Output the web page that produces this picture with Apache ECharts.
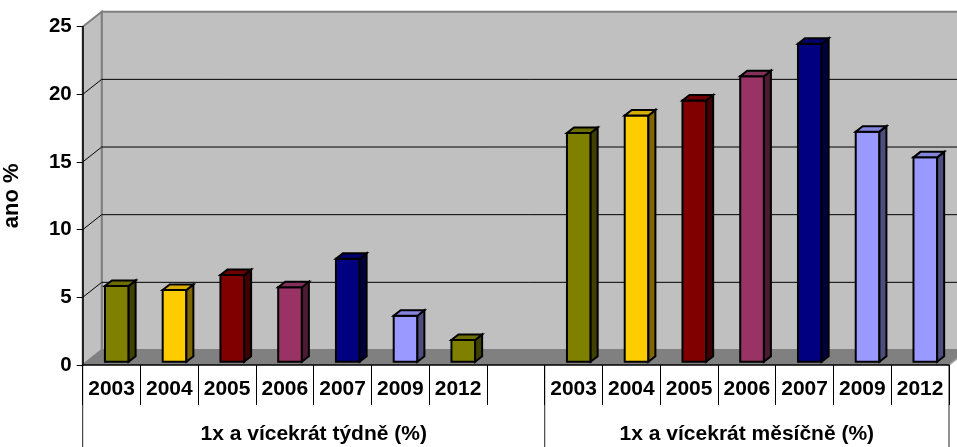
<!DOCTYPE html>
<html>
<head>
<meta charset="utf-8">
<script src="https://cdn.jsdelivr.net/npm/echarts@6/dist/echarts.min.js"></script>
<style>
html,body{margin:0;padding:0;background:#fff;}
#chart{width:957px;height:447px;}
</style>
</head>
<body>
<div id="chart"></div>
<script>
// ---- data ----
const years = ['2003', '2004', '2005', '2006', '2007', '2009', '2012'];
const groupLabels = ['1x a vícekrát týdně (%)', '1x a vícekrát měsíčně (%)'];
const weekly = [5.6, 5.3, 6.4, 5.5, 7.6, 3.4, 1.6];
const monthly = [16.9, 18.2, 19.3, 21.1, 23.5, 17.0, 15.1];
const yTicks = [0, 5, 10, 15, 20, 25];
const yTitle = 'ano %';

// ---- styles ----
const palette = {
  olive:  {front: '#808000', side: '#404000', top: '#6E6E00'},
  yellow: {front: '#FFCC00', side: '#806600', top: '#D9AD00'},
  red:    {front: '#800000', side: '#400000', top: '#6E0000'},
  plum:   {front: '#993366', side: '#4D1A33', top: '#83305A'},
  navy:   {front: '#000080', side: '#000040', top: '#00006E'},
  peri:   {front: '#9999FF', side: '#4D4D80', top: '#8585DD'}
};
const weeklyColors = ['olive', 'yellow', 'red', 'plum', 'navy', 'peri', 'olive'];
const monthlyColors = ['olive', 'yellow', 'red', 'plum', 'navy', 'peri', 'peri'];

const FONT = '"Liberation Sans", Arial, sans-serif';
const WALL_DX = 19, WALL_DY = 15;       // depth of the 3D box
const BAR_FY = 3.3;                     // bar front face depth offset
const BAR_DX = 7, BAR_DY = 5.5;         // bar depth

const categories = years.concat([''], years);
const barData = [];
weekly.forEach((v, i) => barData.push({value: [i, v], colorKey: weeklyColors[i]}));
monthly.forEach((v, i) => barData.push({value: [years.length + 1 + i, v], colorKey: monthlyColors[i]}));
const nCat = categories.length;
const yMax = yTicks[yTicks.length - 1];
const yStep = yTicks[1] - yTicks[0];

function renderWalls(params, api) {
  const bw = api.size([1, 0])[0];
  const o = api.coord([0, 0]);
  const xL = o[0] - bw / 2;
  const xR = api.coord([nCat - 1, 0])[0] + bw / 2;
  const y0 = o[1];
  const yT = api.coord([0, yMax])[1];
  const xSplit = api.coord([years.length, 0])[0] + bw / 2;
  const bottom = y0 + 90;
  const children = [];
  // back wall
  children.push({type: 'rect', shape: {x: xL + WALL_DX, y: yT - WALL_DY, width: xR - xL + 20, height: y0 - yT},
    style: {fill: '#C0C0C0', stroke: '#808080', lineWidth: 2}});
  // left wall
  children.push({type: 'polygon', shape: {points: [[xL, y0], [xL, yT], [xL + WALL_DX, yT - WALL_DY], [xL + WALL_DX, y0 - WALL_DY]]},
    style: {fill: '#C0C0C0', stroke: '#808080', lineWidth: 2}});
  // gridlines
  yTicks.forEach(t => {
    if (t === 0 || t === yMax) return;
    const y = api.coord([0, t])[1];
    children.push({type: 'line', shape: {x1: xL + WALL_DX, y1: y - WALL_DY, x2: xR + 40, y2: y - WALL_DY},
      style: {stroke: '#000', lineWidth: 1}});
    children.push({type: 'line', shape: {x1: xL, y1: y, x2: xL + WALL_DX, y2: y - WALL_DY},
      style: {stroke: '#000', lineWidth: 1}});
  });
  // floor
  children.push({type: 'polygon', shape: {points: [[xL, y0], [xR, y0], [xR + WALL_DX, y0 - WALL_DY], [xL + WALL_DX, y0 - WALL_DY]]},
    style: {fill: '#808080', stroke: null}});
  children.push({type: 'line', shape: {x1: xR, y1: y0, x2: xR + WALL_DX, y2: y0 - WALL_DY},
    style: {stroke: '#A0A0A0', lineWidth: 1.5}});
  // group separators
  [xL, xSplit, xR].forEach(x => {
    children.push({type: 'line', shape: {x1: x, y1: y0, x2: x, y2: bottom},
      style: {stroke: '#222', lineWidth: 1}});
  });
  // group labels
  const yLab = y0 + 69;
  children.push({type: 'text', style: {text: groupLabels[0], x: (xL + xSplit) / 2, y: yLab,
    align: 'center', verticalAlign: 'middle', font: 'bold 21px ' + FONT, fill: '#000'}});
  children.push({type: 'text', style: {text: groupLabels[1], x: (xSplit + xR) / 2, y: yLab,
    align: 'center', verticalAlign: 'middle', font: 'bold 21px ' + FONT, fill: '#000'}});
  return {type: 'group', children: children};
}

function renderBar(params, api) {
  const idx = api.value(0), v = api.value(1);
  const bw = api.size([1, 0])[0];
  const base = api.coord([idx, 0]);
  const top = api.coord([idx, v]);
  const c = palette[barData[params.dataIndex].colorKey];
  const l = base[0] - 0.115 * bw;
  const r = l + 0.41 * bw;
  const yb = base[1] - BAR_FY;
  const yt = top[1] - BAR_FY;
  const st = (fill) => ({fill: fill, stroke: '#000', lineWidth: 2, lineJoin: 'miter'});
  return {type: 'group', children: [
    {type: 'polygon', shape: {points: [[l, yb], [r, yb], [r, yt], [l, yt]]}, style: st(c.front)},
    {type: 'polygon', shape: {points: [[r, yb], [r + BAR_DX, yb - BAR_DY], [r + BAR_DX, yt - BAR_DY], [r, yt]]}, style: st(c.side)},
    {type: 'polygon', shape: {points: [[l, yt], [r, yt], [r + BAR_DX, yt - BAR_DY], [l + BAR_DX, yt - BAR_DY]]}, style: st(c.top)}
  ]};
}

const chart = echarts.init(document.getElementById('chart'), null, {renderer: 'canvas'});
chart.setOption({
  animation: false,
  backgroundColor: '#fff',
  grid: {left: 82.7, right: 8, top: 26.7, bottom: 82, containLabel: false, outerBoundsMode: 'none'},
  xAxis: {
    type: 'category', data: categories, boundaryGap: true, z: 10,
    axisLine: {show: true, lineStyle: {color: '#000', width: 1.5}},
    axisTick: {show: true, interval: 0, length: 40, lineStyle: {color: '#000', width: 1}},
    axisLabel: {interval: 0, margin: 14, color: '#000', fontWeight: 'bold', fontSize: 21, fontFamily: FONT},
    splitLine: {show: false}
  },
  yAxis: {
    type: 'value', min: yTicks[0], max: yMax, interval: yStep, z: 10,
    name: yTitle, nameLocation: 'middle', nameRotate: 90, nameGap: 60,
    nameTextStyle: {color: '#000', fontWeight: 'bold', fontSize: 22, fontFamily: FONT},
    axisLine: {show: true, lineStyle: {color: '#000', width: 1.5}},
    axisTick: {show: true, length: 6, lineStyle: {color: '#000', width: 1}},
    axisLabel: {margin: 11, color: '#000', fontWeight: 'bold', fontSize: 20.5, fontFamily: FONT},
    splitLine: {show: false}
  },
  series: [
    {type: 'custom', z: 1, clip: false, silent: true, renderItem: renderWalls, data: [[0, 0]]},
    {type: 'custom', z: 2, clip: false, silent: true, renderItem: renderBar,
      encode: {x: 0, y: 1}, data: barData}
  ]
});
</script>
</body>
</html>
